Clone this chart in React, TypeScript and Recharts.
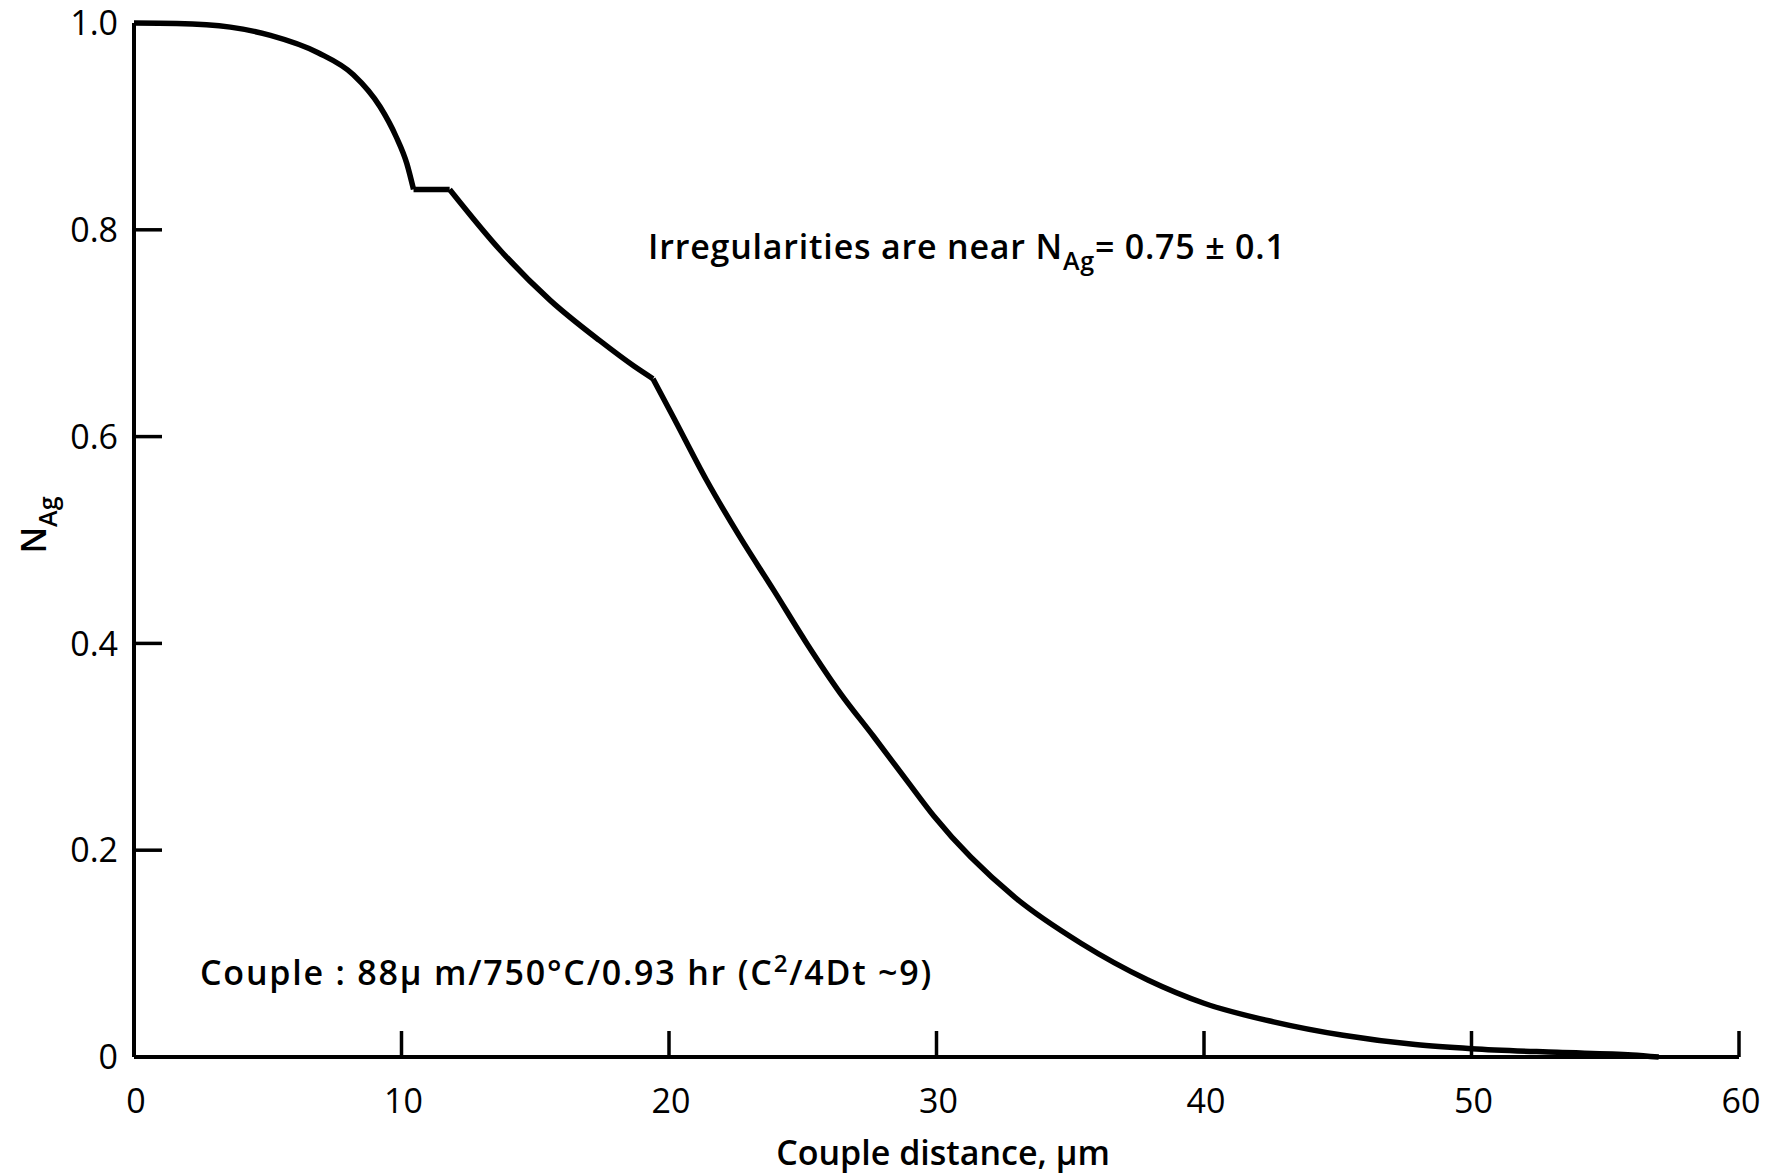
import { LineChart, Line, XAxis, YAxis } from "recharts";

// N_Ag vs couple distance (um); the curve is drawn in four pieces
// so the step and the kink keep their sharp corners
const erfX = [0, 1.6, 3.6, 5.1, 6.9, 8.2, 9.2, 9.8, 10.2, 10.45];
const erfN = [1.0, 0.9995, 0.996, 0.988, 0.971, 0.95, 0.919, 0.89, 0.864, 0.839];

const stepX = [10.45, 11.8];
const stepN = [0.839, 0.839];

const midX = [11.8, 13.7, 15.55, 17.4, 18.7, 19.4];
const midN = [0.839, 0.78, 0.732, 0.693, 0.668, 0.656];

const tailX = [19.4, 20.16, 21.4, 22.65, 23.9, 25.15, 26.4, 27.65, 28.9, 29.9, 32.9, 35.4, 37.9, 40.0, 42.6, 45.2, 47.9, 50.0, 53.2, 56.0, 57.0];
const tailN = [0.656, 0.619, 0.558, 0.503, 0.452, 0.4, 0.352, 0.31, 0.267, 0.233, 0.155, 0.11, 0.0745, 0.052, 0.034, 0.021, 0.012, 0.008, 0.0045, 0.002, 0];

const xTicks = [0, 10, 20, 30, 40, 50, 60];
const yTicks = [0, 0.2, 0.4, 0.6, 0.8, 1.0];

const toRows = (xs: number[], ns: number[]) => xs.map((x, i) => ({ x, n: ns[i] }));

const FONT = "'Open Sans', 'DejaVu Sans', sans-serif";

function YTick(props: any) {
  const { x, y, payload } = props;
  const v = payload.value as number;
  const label = v === 0 ? "0" : v.toFixed(1);
  return (
    <g>
      {v > 0 && v < 1 && <line x1={x} x2={x + 28} y1={y} y2={y} stroke="#000" strokeWidth={3.5} />}
      <text x={x - 16} y={y} dy="0.36em" textAnchor="end" fontFamily={FONT} fontSize={34} fontWeight={500} fill="#000">
        {label}
      </text>
    </g>
  );
}

function XTick(props: any) {
  const { x, y, payload } = props;
  const v = payload.value as number;
  return (
    <g>
      {v > 0 && <line x1={x} x2={x} y1={y} y2={y - 26} stroke="#000" strokeWidth={3.5} />}
      <text x={x + 2} y={y + 56} textAnchor="middle" fontFamily={FONT} fontSize={34} fontWeight={500} fill="#000">
        {String(v)}
      </text>
    </g>
  );
}

const noteStyle = {
  position: "absolute" as const,
  fontFamily: FONT,
  fontSize: 34,
  fontWeight: 600,
  lineHeight: "40px",
  whiteSpace: "nowrap" as const,
};

export default function App() {
  const lineProps = {
    dataKey: "n",
    stroke: "#000",
    strokeWidth: 5.5,
    dot: false,
    activeDot: false,
    isAnimationActive: false,
    type: "monotone" as const,
  };

  return (
    <div style={{ position: "absolute", left: 0, top: 0, width: 1782, height: 1175, background: "#fff" }}>
      <LineChart width={1782} height={1175} margin={{ top: 23, right: 43, left: 0, bottom: 0 }}>
        <XAxis
          type="number"
          dataKey="x"
          domain={[0, 60]}
          ticks={xTicks}
          height={118}
          tickSize={0}
          tickMargin={0}
          tickLine={false}
          axisLine={{ stroke: "#000", strokeWidth: 4 }}
          tick={<XTick />}
          allowDataOverflow
        />
        <YAxis
          type="number"
          domain={[0, 1]}
          ticks={yTicks}
          width={134}
          tickSize={0}
          tickMargin={0}
          tickLine={false}
          axisLine={{ stroke: "#000", strokeWidth: 4 }}
          tick={<YTick />}
        />
        <Line {...lineProps} data={toRows(erfX, erfN)} />
        <Line {...lineProps} type="linear" data={toRows(stepX, stepN)} />
        <Line {...lineProps} data={toRows(midX, midN)} />
        <Line {...lineProps} data={toRows(tailX, tailN)} />
      </LineChart>

      <div style={{ ...noteStyle, left: 648, top: 226, letterSpacing: 0.8 }}>
        Irregularities are near N<span style={{ fontSize: 25, position: "relative", top: 11 }}>Ag</span>= 0.75 ± 0.1
      </div>

      <div style={{ ...noteStyle, left: 200, top: 952, letterSpacing: 1.8 }}>
        Couple : 88μ m/750°C/0.93 hr (C<span style={{ fontSize: 24, position: "relative", top: -13 }}>2</span>/4Dt ~9)
      </div>

      <div style={{ ...noteStyle, left: 943, top: 1132, transform: "translateX(-50%)" }}>Couple distance, μm</div>

      <div style={{ ...noteStyle, left: 34, top: 525, transform: "translate(-50%, -50%) rotate(-90deg)" }}>
        N<span style={{ fontSize: 25, position: "relative", top: 11 }}>Ag</span>
      </div>
    </div>
  );
}
